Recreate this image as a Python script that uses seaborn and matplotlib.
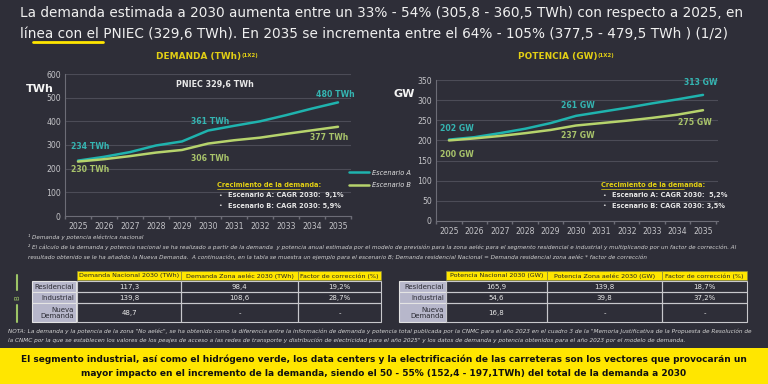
import matplotlib
matplotlib.use("Agg")
import matplotlib.pyplot as plt
from matplotlib.patches import Rectangle
from matplotlib.lines import Line2D
import seaborn as sns
import pandas as pd

# --- data -----------------------------------------------------------------
years = list(range(2025, 2036))
demanda_a = [234, 250, 270, 298, 315, 361, 381, 400, 426, 454, 480]
demanda_b = [230, 240, 253, 268, 279, 306, 320, 331, 347, 362, 377]
potencia_a = [202, 208, 218, 229, 243, 261, 271, 281, 292, 302, 313]
potencia_b = [200, 205, 211, 218, 226, 237, 243, 249, 256, 264, 275]
escenarios = ['Escenario A', 'Escenario B']
label_years = [2025, 2030, 2035]

cagr_demanda = ['9,1%', '5,9%']
cagr_potencia = ['5,2%', '3,5%']

row_labels = ['Residencial', 'Industrial', 'Nueva\nDemanda']
dem_headers = ['Demanda Nacional 2030 (TWh)', 'Demanda Zona aeléc 2030 (TWh)', 'Factor de corrección (%)']
dem_nacional = [117.3, 139.8, 48.7]
dem_zona = [98.4, 108.6, None]
dem_factor = [19.2, 28.7, None]
pot_headers = ['Potencia Nacional 2030 (GW)', 'Potencia Zona aeléc 2030 (GW)', 'Factor de corrección (%)']
pot_nacional = [165.9, 54.6, 16.8]
pot_zona = [139.8, 39.8, None]
pot_factor = [18.7, 37.2, None]

title_lines = [
    'La demanda estimada a 2030 aumenta entre un 33% - 54% (305,8 - 360,5 TWh) con respecto a 2025, en',
    'línea con el PNIEC (329,6 TWh). En 2035 se incrementa entre el 64% - 105% (377,5 - 479,5 TWh ) (1/2)',
]
footnotes = [
    '¹ Demanda y potencia eléctrica nacional',
    '² El cálculo de la demanda y potencia nacional se ha realizado a partir de la demanda  y potencia anual estimada por el modelo de previsión para la zona aeléc para el segmento residencial e industrial y multiplicando por un factor de corrección. Al',
    'resultado obtenido se le ha añadido la Nueva Demanda.  A continuación, en la tabla se muestra un ejemplo para el escenario B; Demanda residencial Nacional = Demanda residencial zona aeléc * factor de corrección',
]
nota = [
    'NOTA: La demanda y la potencia de la zona "No aeléc", se ha obtenido como la diferencia entre la información de demanda y potencia total publicada por la CNMC para el año 2023 en el cuadro 3 de la "Memoria Justificativa de la Propuesta de Resolución de',
    'la CNMC por la que se establecen los valores de los peajes de acceso a las redes de transporte y distribución de electricidad para el año 2025" y los datos de demanda y potencia obtenidos para el año 2023 por el modelo de demanda.',
]
banner = [
    'El segmento industrial, así como el hidrógeno verde, los data centers y la electrificación de las carreteras son los vectores que provocarán un',
    'mayor impacto en el incremento de la demanda, siendo el 50 - 55% (152,4 - 197,1TWh) del total de la demanda a 2030',
]

# --- style ----------------------------------------------------------------
BG = '#2e2e38'
TEAL = '#1fb3ae'
GREEN = '#b6d36c'
TEAL_TXT = '#35b5b2'
GREEN_TXT = '#a9c46b'
YELLOW = '#ffe600'
YELLOW_TXT = '#e2cf14'
GRID = '#4c4c57'
TICK = '#c4c4c8'

sns.set_theme(style='dark', rc={'axes.facecolor': BG, 'figure.facecolor': BG})
plt.rcParams['font.family'] = ['DejaVu Sans']

W, H = 768, 384
fig = plt.figure(figsize=(W / 100, H / 100), dpi=100)


def fx(x):
    return x / W


def fy(y):
    return 1 - y / H


def text(x, y, s, **kw):
    kw.setdefault('va', 'center')
    fig.text(fx(x), fy(y), s, **kw)


def rect(x0, y0, x1, y1, **kw):
    fig.add_artist(Rectangle((fx(x0), fy(y1)), (x1 - x0) / W, (y1 - y0) / H,
                             transform=fig.transFigure, **kw))


def hline(x0, x1, y, **kw):
    fig.add_artist(Line2D([fx(x0), fx(x1)], [fy(y), fy(y)], transform=fig.transFigure, **kw))


def add_ax(x0, y_top, x1, y_bottom):
    return fig.add_axes([fx(x0), fy(y_bottom), (x1 - x0) / W, (y_bottom - y_top) / H])


def fmt(v, pct=False):
    if v is None:
        return '-'
    s = f'{v:.1f}'.replace('.', ',')
    return s + '%' if pct else s


def draw_chart(ax, a, b, unit, ylim, ystep, offsets, legend):
    df = pd.DataFrame({'year': years * 2, 'value': a + b,
                       'escenario': [escenarios[0]] * len(a) + [escenarios[1]] * len(b)})
    sns.lineplot(data=df, x='year', y='value', hue='escenario', palette=[TEAL, GREEN],
                 linewidth=1.8, ax=ax, legend=legend)
    ax.set_ylim(0, ylim)
    ax.set_yticks(range(0, ylim + 1, ystep))
    ax.set_xticks(years)
    ax.set_xticks([y - 0.5 for y in years] + [years[-1] + 0.5], minor=True)
    ax.set_xlabel('')
    ax.set_ylabel('')
    ax.grid(axis='y', color=GRID, linewidth=0.8)
    ax.grid(axis='x', visible=False)
    ax.set_axisbelow(True)
    for side in ['top', 'right']:
        ax.spines[side].set_visible(False)
    for side in ['left', 'bottom']:
        ax.spines[side].set_visible(True)
        ax.spines[side].set_color('#6c6c76')
        ax.spines[side].set_linewidth(0.8)
    ax.tick_params(axis='x', which='major', length=0, labelsize=5.6, colors=TICK, pad=4)
    ax.tick_params(axis='x', which='minor', length=2.5, color='#6c6c76', bottom=True)
    ax.tick_params(axis='y', length=0, labelsize=5.6, colors=TICK, pad=3)
    # value labels at 2025, 2030, 2035
    for series, color, offs in [(a, TEAL_TXT, offsets[0]), (b, GREEN_TXT, offsets[1])]:
        for yr, (dx, dy, ha) in zip(label_years, offs):
            v = series[years.index(yr)]
            ax.annotate(f'{v} {unit}', (yr, v), xytext=(dx, dy), textcoords='offset pixels',
                        ha=ha, va='center', fontsize=5.6, color=color, fontweight='bold')


# --- title ----------------------------------------------------------------
text(20, 13, title_lines[0], fontsize=9.8, color='#f0f0f0')
text(20, 34, title_lines[1], fontsize=9.8, color='#f0f0f0')
hline(33, 103, 42, color=YELLOW, linewidth=2)

# chart headers
text(241, 57, 'DEMANDA (TWh)', fontsize=6.4, color=YELLOW_TXT, fontweight='bold', ha='right')
text(241, 55, '(1X2)', fontsize=4, color=YELLOW_TXT, fontweight='bold', ha='left')
text(598, 57, 'POTENCIA (GW)', fontsize=6.4, color=YELLOW_TXT, fontweight='bold', ha='right')
text(598, 55, '(1X2)', fontsize=4, color=YELLOW_TXT, fontweight='bold', ha='left')

# --- demanda chart --------------------------------------------------------
ax1 = add_ax(65, 74, 351, 216)
ax1.set_xlim(2024.62, 2035.45)
draw_chart(ax1, demanda_a, demanda_b, 'TWh', 600, 100,
           [[(-7, 14, 'left'), (2, 9, 'center'), (-3, 8, 'center')],
            [(-7, -8, 'left'), (2, -15, 'center'), (-9, -11, 'center')]], legend=True)
sns.move_legend(ax1, loc='center left', bbox_to_anchor=(fx(349), fy(179)),
                bbox_transform=fig.transFigure, frameon=False, title=None,
                fontsize=4.8, handlelength=3.0, handletextpad=0.5, labelspacing=1.0,
                borderpad=0, borderaxespad=0)
for t in ax1.get_legend().get_texts():
    t.set_color('#e0e0e0')
    t.set_fontstyle('italic')
for h in ax1.get_legend().legend_handles:
    h.set_linewidth(1.8)
text(26, 89, 'TWh', fontsize=8, color='#f4f4f4', fontweight='bold')
text(215, 84, 'PNIEC 329,6 TWh', fontsize=5.8, color='#e8e8e8', fontweight='bold', ha='center')

# --- potencia chart -------------------------------------------------------
ax2 = add_ax(436, 80, 718, 221)
ax2.set_xlim(2024.49, 2035.59)
draw_chart(ax2, potencia_a, potencia_b, 'GW', 350, 50,
           [[(-9, 11, 'left'), (2, 10, 'center'), (-2, 12, 'center')],
            [(-9, -14, 'left'), (2, -10, 'center'), (-8, -12, 'center')]], legend=False)
text(394, 94, 'GW', fontsize=8, color='#f4f4f4', fontweight='bold')

# growth boxes
for x0, cagr in [(217, cagr_demanda), (601, cagr_potencia)]:
    text(x0, 185, 'Crecimiento de la demanda:', fontsize=4.8, color=YELLOW_TXT, fontweight='bold')
    hline(x0, x0 + 83, 188.5, color=YELLOW_TXT, linewidth=0.5)
    for i, (esc, val) in enumerate(zip(escenarios, cagr)):
        sep = '  ' if i == 0 else ' '
        text(x0 + 1, 195 + 11 * i, '•', fontsize=4.5, color='#e0e0e0')
        text(x0 + 11, 195 + 11 * i, f'{esc}: CAGR 2030:{sep}{val}', fontsize=4.8,
             color='#e6e6e6', fontweight='bold')

# footnotes
for i, line in enumerate(footnotes):
    text(28, 237 + 10 * i, line, fontsize=4.1, color='#d4d4d4', fontstyle='italic')


# --- tables ---------------------------------------------------------------
def draw_table(col_edges, lab_edges, headers, cols):
    hy0, hy1 = 271, 280
    row_edges = [(281, 292), (292, 303), (303, 322)]
    for j, hdr in enumerate(headers):
        x0, x1 = col_edges[j], col_edges[j + 1]
        rect(x0, hy0, x1, hy1, facecolor=YELLOW, edgecolor='#8a8a40', linewidth=0.5)
        text((x0 + x1) / 2, (hy0 + hy1) / 2 + 0.5, hdr, fontsize=4.6, color='#222222', ha='center')
    for i, (y0, y1) in enumerate(row_edges):
        rect(lab_edges[0], y0, lab_edges[1], y1, facecolor='#b7b7cb', edgecolor='#e4e4e4',
             linewidth=0.8)
        text(lab_edges[1] - 2, (y0 + y1) / 2 + 0.5, row_labels[i], fontsize=5, color='#2a2a33',
             ha='right', linespacing=1.1, multialignment='right')
        for j, col in enumerate(cols):
            x0, x1 = col_edges[j], col_edges[j + 1]
            rect(x0, y0, x1, y1, facecolor='none', edgecolor='#c8c8cc', linewidth=0.8)
            text((x0 + x1) / 2, (y0 + y1) / 2 + 0.5, fmt(col[i], pct=(j == 2)), fontsize=5,
                 color='#e8e8e8', ha='center')


draw_table([77, 181, 298, 381], [32, 76], dem_headers, [dem_nacional, dem_zona, dem_factor])
draw_table([446, 547, 662, 747], [399, 446], pot_headers, [pot_nacional, pot_zona, pot_factor])

# scenario B marker
fig.add_artist(Line2D([fx(17), fx(17)], [fy(275), fy(290)], transform=fig.transFigure,
                      color='#9cc466', linewidth=1.5))
fig.add_artist(Line2D([fx(17), fx(17)], [fy(305), fy(322)], transform=fig.transFigure,
                      color='#9cc466', linewidth=1.5))
text(17, 298, 'B', fontsize=5, color='#9cc466', ha='center', rotation=90)

# nota
for i, line in enumerate(nota):
    text(8, 331 + 9 * i, line, fontsize=4.15, color='#d4d4d4', fontstyle='italic')

# --- bottom banner --------------------------------------------------------
rect(0, 348, W, H, facecolor=YELLOW, edgecolor='none')
text(W / 2, 359, banner[0], fontsize=6.45, color='#111111', fontweight='bold', ha='center')
text(W / 2, 374, banner[1], fontsize=6.45, color='#111111', fontweight='bold', ha='center')

fig.savefig('out.png', dpi=100, facecolor=BG)
